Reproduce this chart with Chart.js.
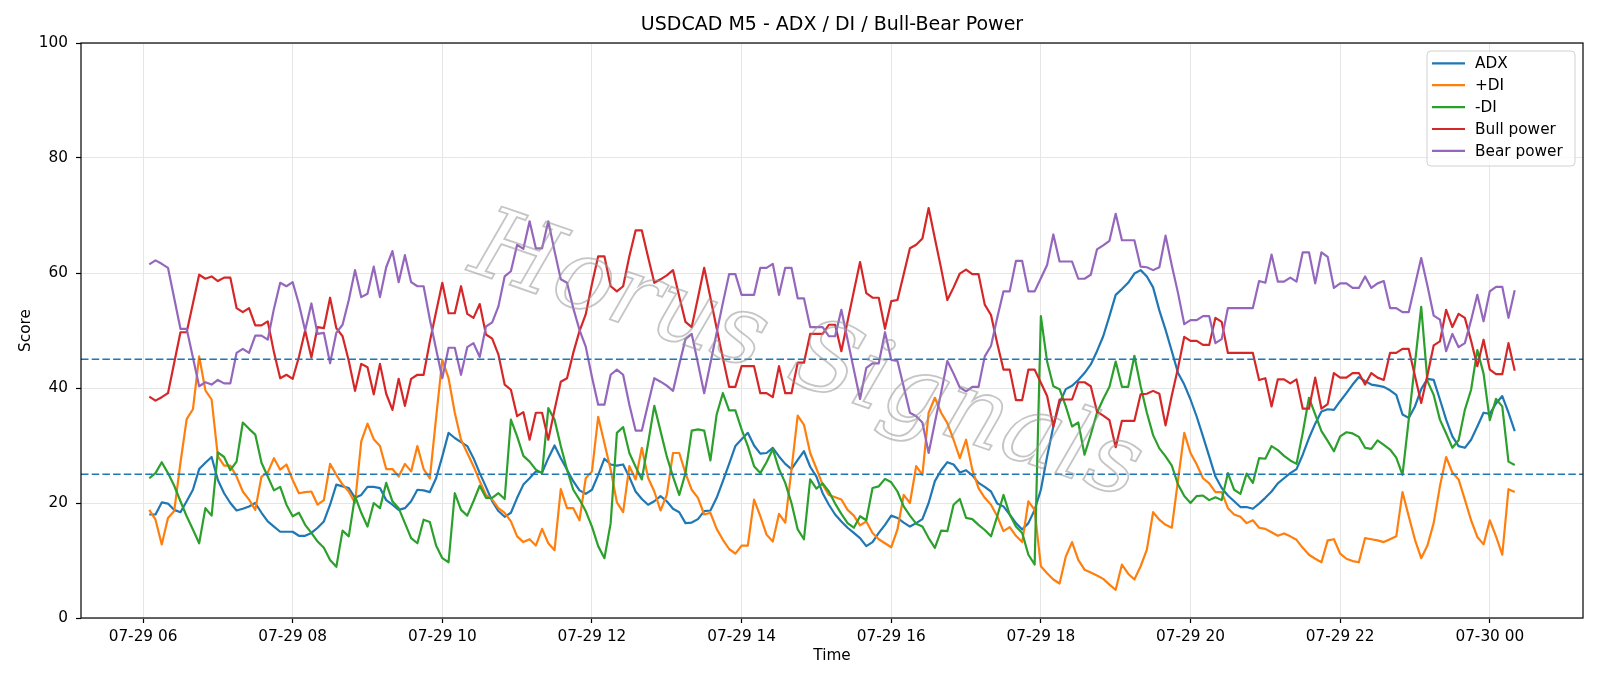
<!DOCTYPE html>
<html>
<head>
<meta charset="utf-8">
<title>USDCAD M5 - ADX / DI / Bull-Bear Power</title>
<script src="https://cdn.jsdelivr.net/npm/chart.js@4.4.1/dist/chart.umd.min.js"></script>
<style>
    html, body { margin: 0; padding: 0; background: #ffffff; }
    #wrap { width: 1600px; height: 686px; }
</style>
</head>
<body>
<div id="wrap"><canvas id="adxChart" width="1600" height="686"></canvas></div>
<script>
/* ===================================================
   USDCAD M5 — ADX / DI / Bull-Bear Power
   =================================================== */

// --- Time axis: M5 bars from 07-29 06:05 (minutes after 07-29 00:00) ---
const FIRST_BAR_MINUTE = 365;
const BAR_MINUTES = 5;

const xTickMinutes = [360, 480, 600, 720, 840, 960, 1080, 1200, 1320, 1440];
const xTickLabels = ["07-29 06", "07-29 08", "07-29 10", "07-29 12", "07-29 14",
                     "07-29 16", "07-29 18", "07-29 20", "07-29 22", "07-30 00"];

const seriesNames = ["ADX", "+DI", "-DI", "Bull power", "Bear power"];
const thresholdLevels = [45, 25];

// --- Series values (one per bar) ---
const adxValues = [
    18, 18, 20.1, 19.9, 18.8, 18.4, 20.3, 22.3, 25.9, 27,
    28, 24, 21.7, 20, 18.7, 19, 19.4, 20, 18.3, 16.8,
    15.9, 15, 15, 15, 14.3, 14.3, 14.8, 15.7, 16.8, 19.7,
    23.2, 22.9, 22.6, 20.9, 21.4, 22.8, 22.8, 22.6, 20.5, 19.7,
    18.8, 19.1, 20.3, 22.3, 22.2, 21.9, 24.3, 28.1, 32.2, 31.3,
    30.6, 29.9, 27.8, 25.2, 22.8, 20.3, 18.6, 17.6, 18.3, 20.9,
    23.2, 24.3, 25.5, 25.3, 27.8, 30, 27.8, 25.8, 23.8, 22.2,
    21.6, 22.3, 24.9, 27.7, 26.7, 26.5, 26.7, 24.5, 22, 20.7,
    19.7, 20.3, 21.2, 20.3, 19, 18.4, 16.5, 16.6, 17.2, 18.6,
    18.7, 20.9, 23.8, 26.8, 29.9, 31.1, 32.2, 30, 28.6, 28.7,
    29.6, 28.1, 26.8, 25.9, 27.5, 29, 26.3, 24.6, 21.7, 19.7,
    18, 16.8, 15.7, 14.8, 13.9, 12.5, 13.2, 14.8, 16.2, 17.8,
    17.4, 16.6, 15.9, 16.5, 17.2, 20, 23.8, 25.7, 27.1, 26.7,
    25.3, 25.7, 24.8, 23.5, 22.8, 22, 19.9, 19.4, 18, 16.5,
    15.4, 16.5, 18.8, 22.3, 28.1, 33.3, 37.4, 39.8, 40.4, 41.4,
    42.6, 44.1, 46.4, 49, 52.5, 56.2, 57.2, 58.3, 59.9, 60.5,
    59.4, 57.5, 53.5, 50.1, 46.4, 42.6, 40.6, 38, 35, 31.6,
    28.1, 24.6, 22.6, 21.3, 20.3, 19.3, 19.3, 19, 19.9, 20.9,
    22, 23.4, 24.3, 25.2, 25.9, 28.4, 31.3, 33.8, 35.9, 36.3,
    36.2, 37.7, 39.1, 40.6, 41.9, 41.2, 40.6, 40.4, 40.2, 39.6,
    38.8, 35.4, 34.8, 36.8, 39.8, 41.6, 41.4, 38, 34.5, 31.6,
    29.9, 29.6, 31, 33.3, 35.7, 35.5, 37.3, 38.6, 35.7, 32.5
];

const plusDiValues = [
    18.8, 17.1, 12.8, 17.4, 18.6, 27, 34.6, 36.3, 45.5, 39.6,
    38, 28.1, 26.5, 26.5, 24.6, 22, 20.6, 18.8, 24.6, 25.3,
    27.8, 25.8, 26.7, 24, 21.7, 21.9, 22, 19.7, 20.5, 26.8,
    24.9, 23.2, 22, 20, 30.7, 33.8, 31.1, 29.9, 25.9, 25.9,
    24.6, 26.8, 25.5, 29.9, 25.9, 24.3, 34.8, 44.9, 41.7, 35.7,
    31, 28.7, 26.4, 23.8, 21.4, 20.6, 19.1, 18.3, 16.8, 14.2,
    13.2, 13.7, 12.6, 15.5, 13, 11.8, 22.4, 19.1, 19.1, 17,
    24.3, 25.5, 35, 30.4, 25.8, 20.1, 18.4, 26.4, 24.1, 29.6,
    24.4, 22, 18.7, 21.4, 28.7, 28.7, 25.2, 22.3, 20.9, 18,
    18.3, 15.5, 13.6, 12, 11.2, 12.6, 12.6, 20.6, 17.7, 14.5,
    13.3, 18.1, 16.6, 25.8, 35.2, 33.6, 28.7, 26, 23.2, 21.4,
    21, 20.6, 18.8, 17.8, 16.1, 16.8, 14.8, 13.7, 13, 12.3,
    15.4, 21.4, 20, 26.4, 24.9, 35.7, 38.3, 35.7, 33.9, 31,
    27.8, 31, 25.8, 22.6, 20.9, 19.7, 17.7, 15.1, 15.8, 14.3,
    13.2, 20.3, 18.8, 9, 7.8, 6.7, 6, 10.7, 13.2, 10.1,
    8.4, 7.9, 7.4, 6.8, 5.8, 4.9, 9.3, 7.7, 6.7, 9,
    11.9, 18.4, 17.1, 16.2, 15.7, 24, 32.2, 28.7, 26.7, 24.3,
    23.4, 21.9, 21.9, 19.1, 18, 17.6, 16.5, 17, 15.7, 15.5,
    14.9, 14.3, 14.7, 14.2, 13.6, 12.2, 11, 10.3, 9.7, 13.5,
    13.7, 11.2, 10.3, 9.9, 9.7, 13.9, 13.7, 13.5, 13.2, 13.7,
    14.2, 21.9, 17.7, 13.6, 10.4, 12.6, 16.5, 22.9, 28, 25.3,
    24.1, 20.6, 17, 14.1, 12.8, 17, 14.2, 11, 22.4, 21.9
];

const minusDiValues = [
    24.3, 25.2, 27.1, 25.2, 23, 20.3, 17.7, 15.4, 13, 19.1,
    17.8, 28.8, 28, 25.7, 27.2, 34, 32.9, 31.9, 27, 24.6,
    22.2, 22.8, 19.7, 17.7, 18.3, 16.2, 14.8, 13.3, 12.2, 10.1,
    8.9, 15.2, 14.2, 21.2, 18.3, 15.9, 20, 19.1, 23.5, 20.3,
    19.1, 16.5, 13.9, 13, 17.1, 16.7, 12.6, 10.4, 9.7, 21.7,
    18.8, 17.8, 20.3, 23, 20.9, 20.9, 21.7, 20.7, 34.5, 31.6,
    28.2, 27.2, 25.8, 25.2, 36.5, 34.5, 29.9, 25.8, 22.3, 20.6,
    18.6, 15.9, 12.5, 10.4, 16.5, 32.2, 33.2, 28.7, 26.3, 24.1,
    30.4, 36.9, 32.5, 28.1, 24.6, 21.4, 25.2, 32.6, 32.8, 32.6,
    27.4, 35.4, 39.1, 36.1, 36.1, 32.8, 29.9, 26.4, 25.2, 27.1,
    29.4, 25.9, 23.5, 20, 15.4, 13.7, 24.1, 22.5, 23.4, 22,
    19.9, 18.1, 16.5, 15.7, 17.7, 17, 22.6, 22.9, 24.2, 23.6,
    22, 19.4, 17.8, 16.4, 15.9, 13.9, 12.2, 15.2, 15.1, 19.7,
    20.7, 17.4, 17.2, 16.2, 15.3, 14.2, 17.7, 21.4, 18, 15.9,
    14.8, 11, 9.3, 52.5, 44.6, 40.3, 39.8, 36.8, 33.3, 34,
    28.4, 31.9, 35.7, 38.1, 40.2, 44.6, 40.2, 40.2, 45.6, 40.3,
    35.7, 31.8, 29.5, 28.1, 26.5, 23.2, 21.2, 20, 21.2, 21.3,
    20.5, 21, 20.5, 25.2, 22.3, 21.6, 25.1, 23.5, 27.8, 27.7,
    29.9, 29.2, 28.2, 27.4, 26.8, 32.2, 38.3, 35.4, 32.5, 30.8,
    29, 31.6, 32.3, 32.1, 31.5, 29.6, 29.4, 30.9, 30.1, 29.3,
    27.9, 24.9, 34.5, 44.3, 54.1, 41.2, 38.8, 34.5, 32.1, 29.6,
    30.9, 36.2, 39.7, 46.6, 42.5, 34.4, 38.1, 36.8, 27.2, 26.6
];

const bullPowerValues = [
    38.5, 37.8, 38.4, 39.1, 44.4, 49.7, 49.7, 54.7, 59.7, 59,
    59.4, 58.6, 59.2, 59.2, 53.9, 53.2, 53.9, 50.9, 50.9, 51.6,
    46.2, 41.7, 42.3, 41.6, 45.4, 50, 45.3, 50.6, 50.4, 55.7,
    50.4, 49, 44.7, 39.5, 44.2, 43.6, 38.9, 44.2, 39, 36.2,
    41.6, 36.9, 41.6, 42.3, 42.3, 48.1, 53.2, 58.3, 53, 53,
    57.7, 52.9, 52.2, 54.6, 49.3, 48.6, 45.8, 40.6, 39.7, 35.1,
    35.8, 31, 35.7, 35.7, 31, 36.2, 41.1, 41.7, 46.1, 49.9,
    52.8, 58.1, 62.9, 62.9, 57.7, 56.8, 57.7, 62.9, 67.4, 67.4,
    62.8, 58.3, 58.9, 59.6, 60.5, 55.9, 51.5, 50.6, 55.7, 60.9,
    55.7, 50.4, 45.2, 40.2, 40.2, 43.8, 43.8, 43.8, 39.1, 39.1,
    38.4, 43.8, 39.1, 39.1, 44.4, 44.4, 49.4, 49.4, 49.4, 51,
    51, 46.4, 51.6, 56.8, 61.9, 56.5, 55.7, 55.7, 50.3, 55.1,
    55.3, 59.8, 64.3, 64.9, 66, 71.3, 66, 60.8, 55.3, 57.5,
    59.9, 60.6, 59.8, 59.8, 54.5, 52.7, 47.8, 43.2, 43.2, 37.9,
    37.9, 43.2, 43.2, 40.9, 38.6, 33.3, 38, 38, 38, 41,
    41, 40.3, 35.9, 35.2, 34.4, 29.7, 34.3, 34.3, 34.3, 38.9,
    39, 39.5, 39, 33.5, 38.7, 43.5, 48.9, 48.2, 48.2, 47.5,
    47.5, 52.2, 51.5, 46.1, 46.1, 46.1, 46.1, 46.1, 41.4, 41.7,
    36.8, 41.5, 41.5, 40.8, 41.5, 36.4, 36.4, 41.8, 36.4, 37.2,
    42.6, 41.8, 41.8, 42.6, 42.6, 40.6, 42.6, 41.8, 41.4, 46.1,
    46.1, 46.8, 46.8, 42.1, 37.4, 42.2, 47.4, 48.1, 53.6, 50.6,
    52.9, 52.2, 48.2, 43.8, 48.4, 43.2, 42.4, 42.4, 47.8, 43
];

const bearPowerValues = [
    61.5, 62.2, 61.6, 60.9, 55.6, 50.3, 50.3, 45.3, 40.3, 41,
    40.6, 41.4, 40.8, 40.8, 46.1, 46.8, 46.1, 49.1, 49.1, 48.4,
    53.8, 58.3, 57.7, 58.4, 54.6, 50, 54.7, 49.4, 49.6, 44.3,
    49.6, 51, 55.3, 60.5, 55.8, 56.4, 61.1, 55.8, 61, 63.8,
    58.4, 63.1, 58.4, 57.7, 57.7, 51.9, 46.8, 41.7, 47, 47,
    42.3, 47.1, 47.8, 45.4, 50.7, 51.4, 54.2, 59.4, 60.3, 64.9,
    64.2, 69, 64.3, 64.3, 69, 63.8, 58.9, 58.3, 53.9, 50.1,
    47.2, 41.9, 37.1, 37.1, 42.3, 43.2, 42.3, 37.1, 32.6, 32.6,
    37.2, 41.7, 41.1, 40.4, 39.5, 44.1, 48.5, 49.4, 44.3, 39.1,
    44.3, 49.6, 54.8, 59.8, 59.8, 56.2, 56.2, 56.2, 60.9, 60.9,
    61.6, 56.2, 60.9, 60.9, 55.6, 55.6, 50.6, 50.6, 50.6, 49,
    49, 53.6, 48.4, 43.2, 38.1, 43.5, 44.3, 44.3, 49.7, 44.9,
    44.7, 40.2, 35.7, 35.1, 34, 28.7, 34, 39.2, 44.7, 42.5,
    40.1, 39.4, 40.2, 40.2, 45.5, 47.3, 52.2, 56.8, 56.8, 62.1,
    62.1, 56.8, 56.8, 59.1, 61.4, 66.7, 62, 62, 62, 59,
    59, 59.7, 64.1, 64.8, 65.6, 70.3, 65.7, 65.7, 65.7, 61.1,
    61, 60.5, 61, 66.5, 61.3, 56.5, 51.1, 51.8, 51.8, 52.5,
    52.5, 47.8, 48.5, 53.9, 53.9, 53.9, 53.9, 53.9, 58.6, 58.3,
    63.2, 58.5, 58.5, 59.2, 58.5, 63.6, 63.6, 58.2, 63.6, 62.8,
    57.4, 58.2, 58.2, 57.4, 57.4, 59.4, 57.4, 58.2, 58.6, 53.9,
    53.9, 53.2, 53.2, 57.9, 62.6, 57.8, 52.6, 51.9, 46.4, 49.4,
    47.1, 47.8, 51.8, 56.2, 51.6, 56.8, 57.6, 57.6, 52.2, 57
];

// --- Look ---
const FONT_FAMILY = '"DejaVu Sans", sans-serif';
const seriesColors = ["#1f77b4", "#ff7f0e", "#2ca02c", "#d62728", "#9467bd"];
const barTimes = adxValues.map(function (_, k) { return FIRST_BAR_MINUTE + k * BAR_MINUTES; });

// matplotlib-style 5% margins on the time axis
const timeSpan = barTimes[barTimes.length - 1] - barTimes[0];
const xMin = barTimes[0] - 0.05 * timeSpan;
const xMax = barTimes[barTimes.length - 1] + 0.05 * timeSpan;

function toPoints(values) {
    return values.map(function (v, k) { return { x: barTimes[k], y: v }; });
}

function seriesDataset(idx, values) {
    return {
        label: seriesNames[idx],
        data: toPoints(values),
        borderColor: seriesColors[idx],
        backgroundColor: seriesColors[idx],
        borderWidth: 2.2,
        borderJoinStyle: "round",
        pointRadius: 0,
        tension: 0,
        fill: false,
        order: 10 - idx
    };
}

function levelDataset(level) {
    return {
        label: "level " + level,
        data: [{ x: xMin, y: level }, { x: xMax, y: level }],
        borderColor: "#1f77b4",
        borderWidth: 1.7,
        borderDash: [7.5, 3.2],
        pointRadius: 0,
        fill: false,
        order: 0
    };
}

// ===================================================
// Decorations: title, axis titles, frame, legend, watermark
// ===================================================
const decorPlugin = {
    id: "decor",
    afterDatasetsDraw: function (chart) {
        const ctx = chart.ctx;
        ctx.save();
        ctx.translate(806, 360);
        ctx.rotate(19 * Math.PI / 180);
        ctx.font = 'italic 98px "DejaVu Serif", serif';
        ctx.textAlign = "center";
        ctx.textBaseline = "middle";
        ctx.lineWidth = 1.8;
        ctx.strokeStyle = "rgba(150, 150, 150, 0.55)";
        ctx.strokeText("Horus Signals", 0, 0);
        ctx.restore();
    },
    afterDraw: function (chart) {
        const ctx = chart.ctx;
        const area = chart.chartArea;

        ctx.save();
        // axes frame
        ctx.strokeStyle = "#000";
        ctx.lineWidth = 1.2;
        ctx.strokeRect(area.left, area.top, area.right - area.left, area.bottom - area.top);

        // title + axis titles
        ctx.fillStyle = "#000";
        ctx.textAlign = "center";
        ctx.textBaseline = "middle";
        ctx.font = "19px " + FONT_FAMILY;
        ctx.fillText("USDCAD M5 - ADX / DI / Bull-Bear Power", (area.left + area.right) / 2, 25.5);
        ctx.font = "15.3px " + FONT_FAMILY;
        ctx.fillText("Time", (area.left + area.right) / 2, 656);
        ctx.save();
        ctx.translate(26, (area.top + area.bottom) / 2);
        ctx.rotate(-Math.PI / 2);
        ctx.fillText("Score", 0, 0);
        ctx.restore();

        // legend box (upper right, inside the axes)
        const boxX = 1427, boxY = 51, boxW = 148, boxH = 115;
        ctx.beginPath();
        ctx.roundRect(boxX, boxY, boxW, boxH, 4);
        ctx.fillStyle = "rgba(255, 255, 255, 0.8)";
        ctx.fill();
        ctx.strokeStyle = "rgba(204, 204, 204, 0.9)";
        ctx.lineWidth = 1;
        ctx.stroke();

        ctx.textAlign = "left";
        ctx.font = "15.3px " + FONT_FAMILY;
        seriesNames.forEach(function (name, i) {
            const y = 63.3 + i * 21.9;
            ctx.strokeStyle = seriesColors[i];
            ctx.lineWidth = 2.2;
            ctx.beginPath();
            ctx.moveTo(1432, y);
            ctx.lineTo(1465, y);
            ctx.stroke();
            ctx.fillStyle = "#000";
            ctx.fillText(name, 1475, y + 1);
        });
        ctx.restore();
    }
};

// ===================================================
// Chart
// ===================================================
const tickFont = { family: FONT_FAMILY, size: 15.3 };
const gridStyle = {
    color: "#e6e6e6",
    lineWidth: 1,
    drawTicks: true,
    tickLength: 5,
    tickColor: "#000",
    tickWidth: 1.2
};

new Chart(document.getElementById("adxChart").getContext("2d"), {
    type: "line",
    data: {
        datasets: [
            seriesDataset(0, adxValues),
            seriesDataset(1, plusDiValues),
            seriesDataset(2, minusDiValues),
            seriesDataset(3, bullPowerValues),
            seriesDataset(4, bearPowerValues)
        ].concat(thresholdLevels.map(levelDataset))
    },
    options: {
        responsive: false,
        animation: false,
        devicePixelRatio: 1,
        layout: { padding: { top: 43, right: 17, left: 0, bottom: 0 } },
        plugins: {
            legend: { display: false },
            title: { display: false },
            tooltip: { enabled: false }
        },
        scales: {
            x: {
                type: "linear",
                min: xMin,
                max: xMax,
                afterBuildTicks: function (scale) {
                    scale.ticks = xTickMinutes.map(function (v) { return { value: v }; });
                },
                ticks: {
                    callback: function (value) {
                        const k = xTickMinutes.indexOf(value);
                        return k >= 0 ? xTickLabels[k] : "";
                    },
                    font: tickFont,
                    color: "#000",
                    padding: 5,
                    maxRotation: 0,
                    autoSkip: false
                },
                grid: gridStyle,
                border: { display: false },
                afterFit: function (scale) { scale.height = 68; }
            },
            y: {
                min: 0,
                max: 100,
                ticks: { stepSize: 20, font: tickFont, color: "#000", padding: 8 },
                grid: gridStyle,
                border: { display: false },
                afterFit: function (scale) { scale.width = 81; }
            }
        }
    },
    plugins: [decorPlugin]
});
</script>
</body>
</html>
